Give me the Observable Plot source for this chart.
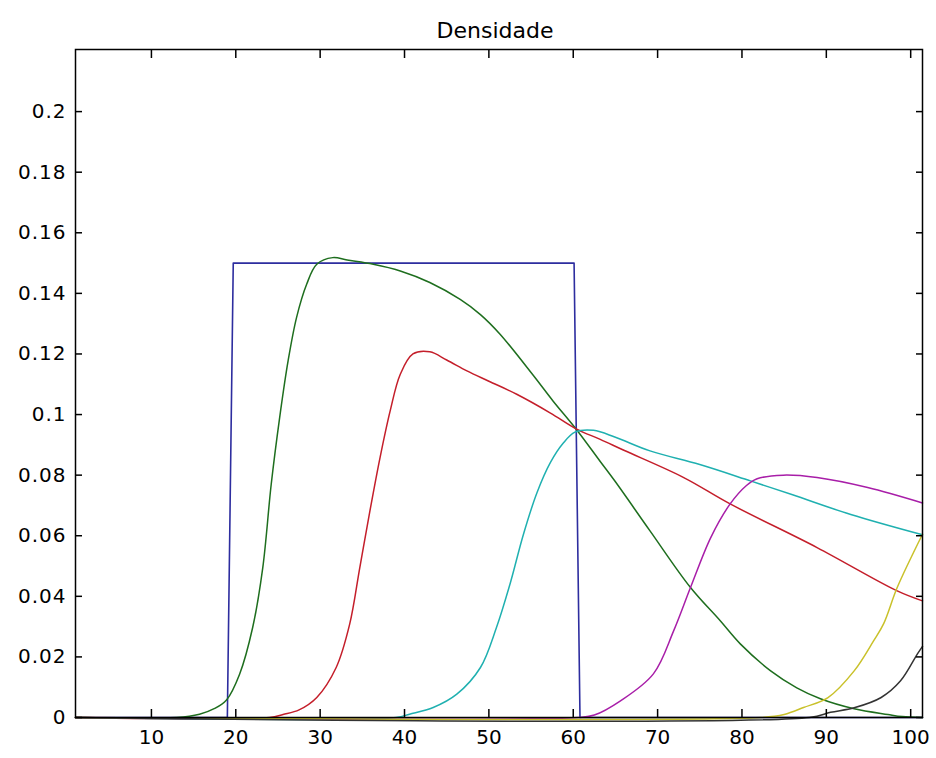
<!DOCTYPE html>
<html><head><meta charset="utf-8">
<script src="https://cdn.jsdelivr.net/npm/d3@7"></script>
<script src="https://cdn.jsdelivr.net/npm/@observablehq/plot@0.6"></script>
<style>
body{margin:0;background:#fff}
g[aria-label="y-axis tick label"] text{letter-spacing:1px}
</style>
</head><body><div id="chart"></div>
<script>
const title = "Densidade";
const xTicks = [10, 20, 30, 40, 50, 60, 70, 80, 90, 100];
const yTicks = [0, 0.02, 0.04, 0.06, 0.08, 0.1, 0.12, 0.14, 0.16, 0.18, 0.2];

const seriesNames = ["s1", "s2", "s3", "s4", "s5", "s6", "s7"];
const seriesColors = ["#2d2d9f", "#1e6e1e", "#c41e2a", "#1fb0b0", "#a81ea8", "#c9c12a", "#333333"];

const blueX = [1, 19.0, 19.7, 60.1, 60.8, 101.4];
const blueY = [0, 0, 0.15, 0.15, 0, 0];

const greenX = [1, 13, 15.7, 17.5, 18.9, 20.45, 22, 23.2, 24.2, 25.2, 26.2, 27.2, 28.4, 29.6, 31.5, 33.2, 36.3, 39.5, 43, 46.6, 49, 51.3, 55.3, 57.6, 60.4, 63.2, 65, 69.1, 73.9, 77.4, 79.8, 83.4, 86.5, 89.3, 93.3, 97.3, 99, 101.4];
const greenY = [0, 0, 0.0011, 0.003, 0.0058, 0.0143, 0.0297, 0.0495, 0.077, 0.099, 0.1177, 0.132, 0.143, 0.1496, 0.1518, 0.151, 0.1496, 0.1474, 0.1436, 0.138, 0.133, 0.1266, 0.1128, 0.1045, 0.095, 0.0845, 0.0778, 0.0616, 0.0429, 0.032, 0.0243, 0.0154, 0.0098, 0.0062, 0.0029, 0.001, 0.0003, 0];

const redX = [1, 24, 25.6, 27.5, 29.6, 31.9, 33.5, 34.7, 35.9, 37.1, 38.3, 39.5, 41, 43, 45, 47.4, 50, 53.3, 57.3, 60.4, 63.2, 66, 73.1, 78.6, 88.9, 98.4, 101.4];
const redY = [0, 0, 0.001, 0.0025, 0.0066, 0.0165, 0.0308, 0.0495, 0.0682, 0.0858, 0.1012, 0.1133, 0.12, 0.1207, 0.118, 0.1144, 0.111, 0.1067, 0.1005, 0.0952, 0.0918, 0.0882, 0.0792, 0.0705, 0.0561, 0.0418, 0.0385];

const cyanX = [1, 39, 40.6, 43.4, 46.2, 49, 50.9, 52.5, 54.1, 55.7, 57.3, 58.8, 60.2, 62.4, 65, 69.1, 75, 81, 86, 92.9, 101.4];
const cyanY = [0, 0, 0.0011, 0.0033, 0.0077, 0.0165, 0.0297, 0.044, 0.0605, 0.0742, 0.0842, 0.0905, 0.0942, 0.0948, 0.0925, 0.088, 0.0835, 0.0781, 0.0735, 0.067, 0.0603];

const magentaX = [1, 60.6, 62.5, 65.6, 69.5, 71.9, 73.9, 76.3, 78.6, 80.5, 81.8, 84.9, 88.9, 94.9, 101.4];
const magentaY = [0, 0, 0.0008, 0.0055, 0.0144, 0.0286, 0.0429, 0.0594, 0.0705, 0.0765, 0.0788, 0.080, 0.0792, 0.0759, 0.0708];

const yellowX = [1, 82.2, 85, 87.3, 90.2, 93.3, 95.6, 96.8, 98.4, 101.4];
const yellowY = [0, 0, 0.001, 0.0033, 0.0066, 0.0154, 0.0253, 0.031, 0.0429, 0.0605];

const darkX = [1, 88, 90.5, 93.3, 96.5, 98.8, 100.8, 101.4];
const darkY = [0, 0, 0.0017, 0.0032, 0.0066, 0.0121, 0.021, 0.0235];

const allX = [blueX, greenX, redX, cyanX, magentaX, yellowX, darkX];
const allY = [blueY, greenY, redY, cyanY, magentaY, yellowY, darkY];

const rows = [];
seriesNames.forEach((s, i) => {
  allX[i].forEach((x, j) => rows.push({s, x, y: allY[i][j]}));
});
const stepRows = rows.filter(d => d.s === "s1");
const smoothRows = rows.filter(d => d.s !== "s1");

const fmtY = d => String(+d.toFixed(2));
const blank = () => "";

const plot = Plot.plot({
  width: 936, height: 758,
  marginLeft: 75, marginRight: 14, marginTop: 49, marginBottom: 41,
  style: {fontFamily: "DejaVu Sans", fontSize: "20px", background: "white", color: "black"},
  x: {domain: [1, 101.4], label: null},
  y: {domain: [0, 0.2205], label: null},
  color: {domain: seriesNames, range: seriesColors},
  marks: [
    Plot.line(stepRows, {x: "x", y: "y", z: "s", stroke: "s", strokeWidth: 1.6}),
    Plot.line(smoothRows, {x: "x", y: "y", z: "s", stroke: "s", strokeWidth: 1.5, curve: "catmull-rom"}),
    Plot.frame({stroke: "black", strokeWidth: 1.5}),
    Plot.axisX(xTicks, {anchor: "bottom", tickSize: 0, tickPadding: 12, fontSize: 20, label: null}),
    Plot.axisX(xTicks, {anchor: "bottom", tickSize: -8, tickFormat: blank, label: null, strokeWidth: 1.5}),
    Plot.axisX(xTicks, {anchor: "top", tickSize: -8, tickFormat: blank, label: null, strokeWidth: 1.5}),
    Plot.axisY(yTicks, {anchor: "left", tickSize: 0, tickPadding: 9, tickFormat: fmtY, fontSize: 20, label: null}),
    Plot.axisY(yTicks, {anchor: "left", tickSize: -7, tickFormat: blank, label: null, strokeWidth: 1.5}),
    Plot.axisY(yTicks, {anchor: "right", tickSize: -7, tickFormat: blank, label: null, strokeWidth: 1.5}),
    Plot.text([title], {frameAnchor: "top", dy: -27, dx: -4, fontSize: 22, text: d => d})
  ]
});
document.getElementById("chart").appendChild(plot);
</script>
</body></html>
